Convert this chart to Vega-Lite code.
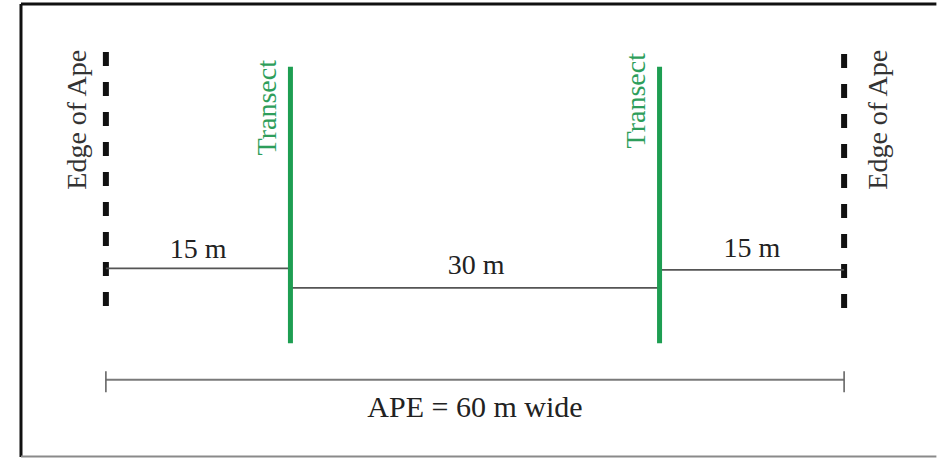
{
  "$schema": "https://vega.github.io/schema/vega-lite/v6.json",
  "width": 938,
  "height": 459,
  "autosize": {"type": "fit", "contains": "padding"},
  "padding": 0,
  "background": "white",
  "config": {"view": {"stroke": null}},
  "datasets": {
    "frameBlack": [
      {"x": -6.9, "x2": 67.5, "y": 4, "y2": 4},
      {"x": -6.9, "x2": -6.9, "y": 4, "y2": 458}
    ],
    "frameGray": [
      {"x": -6.9, "x2": 67.5, "y": 457.5, "y2": 457.5}
    ],
    "edges": [
      {"x": 0, "y": 52, "y2": 307},
      {"x": 60, "y": 54, "y2": 309}
    ],
    "transects": [
      {"x": 15, "y": 67, "y2": 344},
      {"x": 45, "y": 67, "y2": 344}
    ],
    "spans": [
      {"x": 0, "x2": 15, "y": 269},
      {"x": 15, "x2": 45, "y": 288.5},
      {"x": 45, "x2": 60, "y": 270.5}
    ],
    "total": [
      {"x": 0, "x2": 60, "y": 380.5}
    ],
    "totalTicks": [
      {"x": 0, "y": 372, "y2": 393},
      {"x": 60, "y": 372, "y2": 393}
    ],
    "spanLabels": [
      {"x": 7.5, "y": 259, "label": "15 m"},
      {"x": 30.1, "y": 275, "label": "30 m"},
      {"x": 52.5, "y": 258, "label": "15 m"}
    ],
    "totalLabel": [
      {"x": 30, "y": 418, "label": "APE = 60 m wide"}
    ],
    "edgeLabels": [
      {"x": -1.6, "y": 120, "label": "Edge of Ape"},
      {"x": 63.5, "y": 120, "label": "Edge of Ape"}
    ],
    "transectLabels": [
      {"x": 13.8, "y": 108, "label": "Transect"},
      {"x": 43.8, "y": 101, "label": "Transect"}
    ]
  },
  "encoding": {
    "x": {"field": "x", "type": "quantitative", "scale": {"domain": [-8.606, 67.55], "nice": false, "zero": false}, "axis": null},
    "y": {"field": "y", "type": "quantitative", "scale": {"domain": [0, 459], "reverse": true, "nice": false, "zero": false}, "axis": null}
  },
  "layer": [
    {
      "data": {"name": "frameBlack"},
      "mark": {"type": "rule", "color": "#111111", "strokeWidth": 3},
      "encoding": {"x2": {"field": "x2"}, "y2": {"field": "y2"}}
    },
    {
      "data": {"name": "frameGray"},
      "mark": {"type": "rule", "color": "#8a8a8a", "strokeWidth": 2},
      "encoding": {"x2": {"field": "x2"}, "y2": {"field": "y2"}}
    },
    {
      "data": {"name": "edges"},
      "mark": {"type": "rule", "color": "#111111", "strokeWidth": 6, "strokeDash": [14, 16]},
      "encoding": {"y2": {"field": "y2"}}
    },
    {
      "data": {"name": "spans"},
      "mark": {"type": "rule", "color": "#555555", "strokeWidth": 1.6},
      "encoding": {"x2": {"field": "x2"}}
    },
    {
      "data": {"name": "total"},
      "mark": {"type": "rule", "color": "#7a7a7a", "strokeWidth": 2},
      "encoding": {"x2": {"field": "x2"}}
    },
    {
      "data": {"name": "totalTicks"},
      "mark": {"type": "rule", "color": "#666666", "strokeWidth": 1.6},
      "encoding": {"y2": {"field": "y2"}}
    },
    {
      "data": {"name": "transects"},
      "mark": {"type": "rule", "color": "#1e9e52", "strokeWidth": 5},
      "encoding": {"y2": {"field": "y2"}}
    },
    {
      "data": {"name": "spanLabels"},
      "mark": {"type": "text", "font": "Liberation Serif, Times New Roman, DejaVu Serif, serif", "fontSize": 28, "color": "#222222", "align": "center", "baseline": "alphabetic"},
      "encoding": {"text": {"field": "label"}}
    },
    {
      "data": {"name": "totalLabel"},
      "mark": {"type": "text", "font": "Liberation Serif, Times New Roman, DejaVu Serif, serif", "fontSize": 30, "color": "#222222", "align": "center", "baseline": "alphabetic"},
      "encoding": {"text": {"field": "label"}}
    },
    {
      "data": {"name": "edgeLabels"},
      "mark": {"type": "text", "font": "Liberation Serif, Times New Roman, DejaVu Serif, serif", "fontSize": 28, "color": "#333333", "align": "center", "baseline": "alphabetic", "angle": 270},
      "encoding": {"text": {"field": "label"}}
    },
    {
      "data": {"name": "transectLabels"},
      "mark": {"type": "text", "font": "Liberation Serif, Times New Roman, DejaVu Serif, serif", "fontSize": 28, "color": "#2e9e5b", "align": "center", "baseline": "alphabetic", "angle": 270},
      "encoding": {"text": {"field": "label"}}
    }
  ]
}
